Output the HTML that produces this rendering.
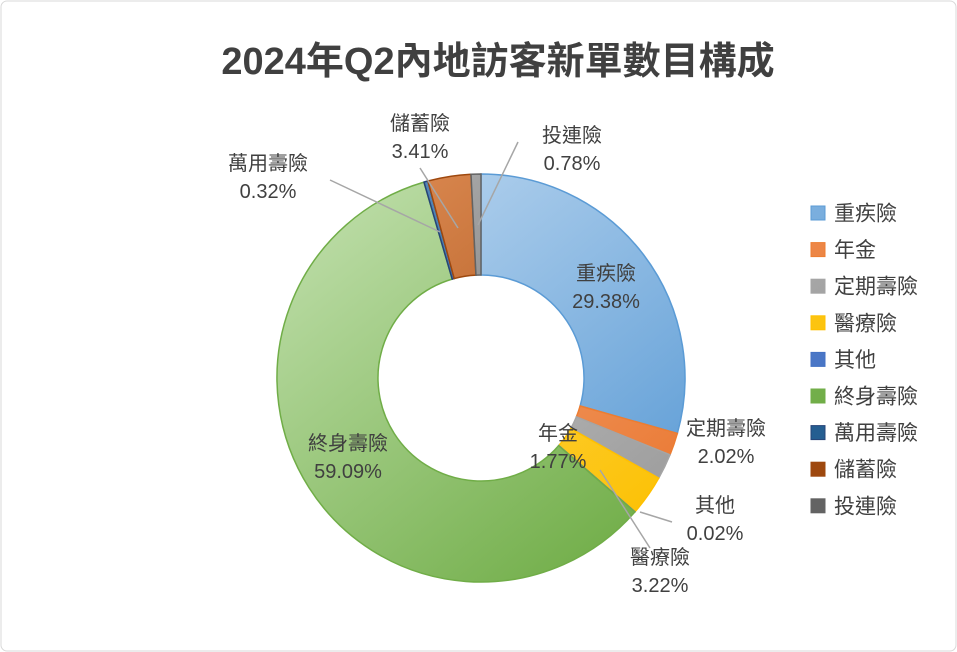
<!DOCTYPE html>
<html><head><meta charset="utf-8"><style>
html,body{margin:0;padding:0;background:#fff}
svg{display:block}
text{font-family:"Liberation Sans","Noto Sans CJK TC",sans-serif}
</style></head><body>
<svg width="957" height="652" viewBox="0 0 957 652">
<defs id="defs"></defs>
<rect x="1" y="1" width="955" height="650" rx="6" fill="#fff" stroke="#d9d9d9"/>
<text x="498" y="74" text-anchor="middle" font-size="38" font-weight="bold" fill="#404040">2024年Q2內地訪客新單數目構成</text>
<g id="slices"></g>
<g id="leaders" stroke="#a6a6a6" stroke-width="1.5" fill="none"></g>
<g id="labels" font-size="20" fill="#404040" text-anchor="middle"></g>
<g id="legend" font-size="21" fill="#404040"></g>
</svg>
<script>
const categories=["重疾險","年金","定期壽險","醫療險","其他","終身壽險","萬用壽險","儲蓄險","投連險"];
const values=[29.38,1.77,2.02,3.22,0.02,59.09,0.32,3.41,0.78];
const lightColors=["#c4dcf2","#f8b990","#d4d4d4","#ffe07a","#8fa9de","#c5e2b2","#5d8fc0","#e4925a","#b8b8b8"];
const darkColors=["#5b9bd5","#e9762f","#9a9a9a","#fcc000","#4472c4","#70ad47","#255e91","#9e480e","#636363"];
const strokeColors=["#5b9bd5","#ed7d31","#a5a5a5","#ffc000","#4472c4","#70ad47","#264478","#9e480e","#636363"];
const labelText=["重疾險|29.38%","年金|1.77%","定期壽險|2.02%","醫療險|3.22%","其他|0.02%","終身壽險|59.09%","萬用壽險|0.32%","儲蓄險|3.41%","投連險|0.78%"];
const labelPos=[[606,280],[558,440],[726,435],[660,564],[715,512],[348,450],[268,170],[420,130],[572,142]];
const leaderLines=[null,null,null,[[600,470],[650,548]],[[640,512],[672,522]],null,[[330,180],[440,232]],[[420,168],[458,228]],[[518,142],[478,225]]];
const cx=481,cy=378,R=204,r=103;
const NS="http://www.w3.org/2000/svg";
const defs=document.getElementById('defs'),gS=document.getElementById('slices'),gL=document.getElementById('labels'),gLd=document.getElementById('leaders'),gLg=document.getElementById('legend');
const total=values.reduce((a,b)=>a+b,0);
function pt(a,rad){return [cx+rad*Math.sin(a),cy-rad*Math.cos(a)];}
let acc=0;
values.forEach((v,i)=>{
  const a0=acc/total*2*Math.PI; acc+=v; const a1=acc/total*2*Math.PI;
  const lg=document.createElementNS(NS,'linearGradient');
  lg.setAttribute('id','g'+i);lg.setAttribute('gradientUnits','userSpaceOnUse');
  lg.setAttribute('x1',cx-R);lg.setAttribute('y1',cy-R);lg.setAttribute('x2',cx+R*0.6);lg.setAttribute('y2',cy+R);
  lg.innerHTML='<stop offset="0" stop-color="'+lightColors[i]+'"/><stop offset="1" stop-color="'+darkColors[i]+'"/>';
  defs.appendChild(lg);
  const large=(a1-a0)>Math.PI?1:0;
  const p0=pt(a0,R),p1=pt(a1,R),q1=pt(a1,r),q0=pt(a0,r);
  const p=document.createElementNS(NS,'path');
  p.setAttribute('d',`M${p0[0]},${p0[1]}A${R},${R} 0 ${large} 1 ${p1[0]},${p1[1]}L${q1[0]},${q1[1]}A${r},${r} 0 ${large} 0 ${q0[0]},${q0[1]}Z`);
  p.setAttribute('fill','url(#g'+i+')');p.setAttribute('stroke',strokeColors[i]);p.setAttribute('stroke-width','1.5');
  
  
  gS.appendChild(p);
  const w=document.createElementNS(NS,'path');
  w.setAttribute('d',`M${p0[0]},${p0[1]}A${R},${R} 0 ${large} 1 ${p1[0]},${p1[1]}`);
  w.setAttribute('fill','none');w.setAttribute('stroke','#fff');w.setAttribute('stroke-width','0');
  const [lx,ly]=labelPos[i];const parts=labelText[i].split('|');
  const t=document.createElementNS(NS,'text');
  t.setAttribute('x',lx);t.setAttribute('y',ly);
  t.innerHTML='<tspan x="'+lx+'">'+parts[0]+'</tspan><tspan x="'+lx+'" dy="28">'+parts[1]+'</tspan>';
  
  
  gL.appendChild(t);
  if(leaderLines[i]){const l=document.createElementNS(NS,'polyline');
    l.setAttribute('points',leaderLines[i].map(p=>p.join(',')).join(' '));
    
    
    gLd.appendChild(l);}
  const y=213+i*36.6;
  const sq=document.createElementNS(NS,'rect');
  sq.setAttribute('x',811);sq.setAttribute('y',y-7);sq.setAttribute('width',14);sq.setAttribute('height',14);
  sq.setAttribute('fill','url(#g'+i+')');sq.setAttribute('stroke',strokeColors[i]);
  
  
  gLg.appendChild(sq);
  const lt=document.createElementNS(NS,'text');
  lt.setAttribute('x',834);lt.setAttribute('y',y+7.5);lt.textContent=categories[i];
  
  
  gLg.appendChild(lt);
});
</script>
</body></html>
